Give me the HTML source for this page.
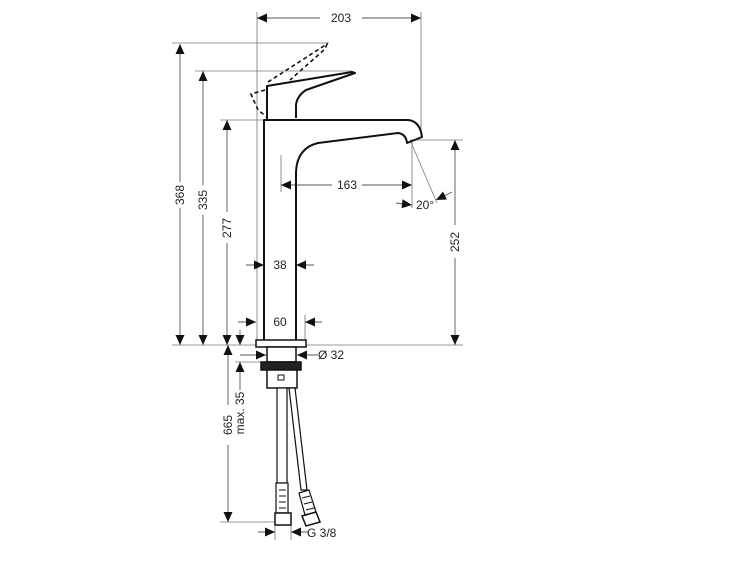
<!DOCTYPE html>
<html><head><meta charset="utf-8"><style>
html,body{margin:0;padding:0;background:#fff;}
svg{display:block;}
text{font-family:"Liberation Sans",sans-serif;font-size:12px;fill:#222;}
</style></head><body>
<svg width="750" height="563" viewBox="0 0 750 563" xmlns="http://www.w3.org/2000/svg">
<defs>
<marker id="a" viewBox="0 0 10 10" refX="10" refY="5" markerWidth="11" markerHeight="10" orient="auto-start-reverse" markerUnits="userSpaceOnUse"><path d="M0,0.5 L10,5 L0,9.5 z" fill="#111"/></marker>
</defs>
<g stroke="#777" stroke-width="0.8" fill="none">
<line x1="257" y1="12" x2="257" y2="345"/>
<line x1="421" y1="12" x2="421" y2="135"/>
<line x1="172" y1="43" x2="327" y2="43"/>
<line x1="195" y1="71" x2="352" y2="71"/>
<line x1="220" y1="120" x2="266" y2="120"/>
<line x1="410" y1="140" x2="463" y2="140"/>
<line x1="172" y1="345" x2="463" y2="345"/>
<line x1="281" y1="155" x2="281" y2="192"/>
<line x1="412" y1="140" x2="412" y2="208"/>
<line x1="410" y1="140" x2="437" y2="203"/>
<line x1="305" y1="315" x2="305" y2="340"/>
<line x1="220" y1="522" x2="280" y2="522"/>
<line x1="275" y1="522" x2="275" y2="540"/>
<line x1="291" y1="522" x2="291" y2="540"/>
<line x1="235" y1="362" x2="266" y2="362"/>
</g>
<g stroke="#555" stroke-width="0.9" fill="none">
<line x1="257" y1="18" x2="320" y2="18" marker-start="url(#a)"/>
<line x1="362" y1="18" x2="421" y2="18" marker-end="url(#a)"/>
<line x1="180" y1="44" x2="180" y2="182" marker-start="url(#a)"/>
<line x1="180" y1="208" x2="180" y2="345" marker-end="url(#a)"/>
<line x1="203" y1="71" x2="203" y2="185" marker-start="url(#a)"/>
<line x1="203" y1="215" x2="203" y2="345" marker-end="url(#a)"/>
<line x1="227" y1="120" x2="227" y2="212" marker-start="url(#a)"/>
<line x1="227" y1="243" x2="227" y2="345" marker-end="url(#a)"/>
<line x1="455" y1="140" x2="455" y2="225" marker-start="url(#a)"/>
<line x1="455" y1="258" x2="455" y2="345" marker-end="url(#a)"/>
<line x1="281" y1="185" x2="332" y2="185" marker-start="url(#a)"/>
<line x1="362" y1="185" x2="412" y2="185" marker-end="url(#a)"/>
<line x1="396" y1="203" x2="412" y2="205" marker-end="url(#a)"/>
<line x1="452" y1="192" x2="436" y2="200" marker-end="url(#a)"/>
<line x1="246" y1="265" x2="264" y2="265" marker-end="url(#a)"/>
<line x1="314" y1="265" x2="296" y2="265" marker-end="url(#a)"/>
<line x1="238" y1="322" x2="256" y2="322" marker-end="url(#a)"/>
<line x1="322" y1="322" x2="305" y2="322" marker-end="url(#a)"/>
<line x1="240" y1="355" x2="266" y2="355" marker-end="url(#a)"/>
<line x1="318" y1="355" x2="297" y2="355" marker-end="url(#a)"/>
<line x1="240" y1="330" x2="240" y2="345" marker-end="url(#a)"/>
<line x1="240" y1="362" x2="240" y2="390" marker-start="url(#a)"/>
<line x1="228" y1="345" x2="228" y2="405" marker-start="url(#a)"/>
<line x1="228" y1="445" x2="228" y2="522" marker-end="url(#a)"/>
<line x1="258" y1="532" x2="275" y2="532" marker-end="url(#a)"/>
<line x1="308" y1="532" x2="291" y2="532" marker-end="url(#a)"/>
</g>
<g stroke="#111" stroke-width="2" fill="none" stroke-linejoin="round">
<path d="M264,345 L264,120 L408,120 Q420,121 422,137 L407,143 Q406,134 398,133 L318,143 Q297,148 296,172 L296,345"/>
<path d="M267,120 L267,86 L352,72 L355,73 L306,90 Q297,96 296,105 L296,118"/>
</g>
<g stroke="#111" stroke-width="1.6" fill="none" stroke-dasharray="4,3">
<path d="M265,90 L251,94 L258,110 L267,117"/>
<path d="M268,82 L327,44 L325,49 L290,80"/>
</g>
<g stroke="#111" stroke-width="1.5" fill="#fff">
<rect x="256" y="340" width="50" height="7"/>
<rect x="267" y="347" width="29" height="15"/>
<rect x="261" y="362" width="40" height="8" fill="#222"/>
<rect x="267" y="370" width="30" height="18"/>
<rect x="277" y="388" width="10" height="95" stroke-width="1.2"/>
<path d="M289,388 L301,490 L307,490 L295,388 Z" stroke-width="1.2"/>
<rect x="276" y="483" width="12" height="30" stroke-width="1.2"/>
<rect x="275" y="513" width="16" height="12"/>
<path d="M299,493 L309,490 L316,512 L305,515 Z" stroke-width="1.2"/>
<path d="M302,516 L316,512 L320,522 L306,526 Z"/>
</g>
<g stroke="#111" stroke-width="1">
<line x1="279" y1="490" x2="286" y2="490"/><line x1="279" y1="496" x2="286" y2="496"/><line x1="279" y1="502" x2="286" y2="502"/><line x1="279" y1="508" x2="286" y2="508"/>
<line x1="302" y1="498" x2="310" y2="496"/><line x1="304" y1="504" x2="312" y2="502"/><line x1="306" y1="510" x2="314" y2="508"/>
<rect x="278" y="375" width="6" height="5" fill="#fff"/>
</g>
<text x="341" y="22" text-anchor="middle">203</text>
<text x="347" y="189" text-anchor="middle">163</text>
<text x="416" y="209">20°</text>
<text x="280" y="269" text-anchor="middle">38</text>
<text x="280" y="326" text-anchor="middle">60</text>
<text x="318" y="359">Ø 32</text>
<text x="307" y="537">G 3/8</text>
<text transform="translate(184,195) rotate(-90)" text-anchor="middle">368</text>
<text transform="translate(207,200) rotate(-90)" text-anchor="middle">335</text>
<text transform="translate(231,228) rotate(-90)" text-anchor="middle">277</text>
<text transform="translate(459,242) rotate(-90)" text-anchor="middle">252</text>
<text transform="translate(232,425) rotate(-90)" text-anchor="middle">665</text>
<text transform="translate(244,413) rotate(-90)" text-anchor="middle">max. 35</text>
</svg>
</body></html>
